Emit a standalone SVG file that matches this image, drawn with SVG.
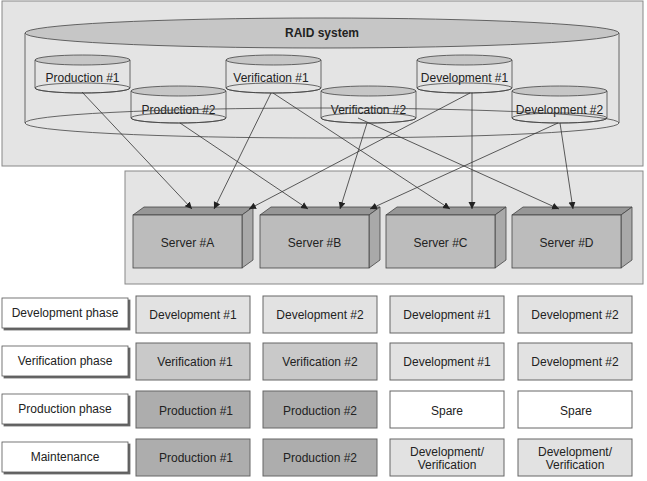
<svg xmlns="http://www.w3.org/2000/svg" width="647" height="481" viewBox="0 0 647 481">
<defs>
<marker id="ah" markerUnits="userSpaceOnUse" markerWidth="8" markerHeight="8" refX="7" refY="3.5" orient="auto">
<path d="M0,0 L7,3.5 L0,7 Z" fill="#222"/>
</marker>
<filter id="sh" x="-5%" y="-5%" width="115%" height="130%"><feDropShadow dx="2" dy="2" stdDeviation="0.3" flood-color="#666" flood-opacity="1"/></filter>
</defs>
<style>
text{font-family:"Liberation Sans",Arial,sans-serif;font-size:12px;fill:#222;text-anchor:middle}
.panel{fill:#e4e4e4;stroke:#888;stroke-width:1}
.cyl-body{fill:#e4e4e4;stroke:#444;stroke-width:0.8}
.cyl-top{fill:#c6c6c6;stroke:#444;stroke-width:0.8}
.cyl-bot{fill:none;stroke:#444;stroke-width:0.8}
.front{fill:#bcbcbc;stroke:#444;stroke-width:0.8}
.topf{fill:#979797;stroke:#444;stroke-width:0.8}
.side{fill:#a9a9a9;stroke:#444;stroke-width:0.8}
.lbl{fill:#fff;stroke:#555;stroke-width:0.8}
.dev{fill:#e2e2e2;stroke:#666;stroke-width:1}
.ver{fill:#c9c9c9;stroke:#666;stroke-width:1}
.prod{fill:#adadad;stroke:#666;stroke-width:1}
.spare{fill:#fff;stroke:#666;stroke-width:1}
.conn line{stroke:#333;stroke-width:0.8;marker-end:url(#ah)}
</style>
<rect class="panel" x="2" y="1" width="641" height="165"/>
<rect class="panel" x="125" y="171" width="518" height="113"/>
<g id="raid">
<line x1="25" y1="33" x2="25" y2="123" stroke="#444" stroke-width="0.8"/>
<line x1="619" y1="33" x2="619" y2="123" stroke="#444" stroke-width="0.8"/>
<ellipse class="cyl-top" cx="322" cy="33" rx="297" ry="15"/>
<text x="322" y="37" style="font-weight:bold;font-size:12px">RAID system</text>
</g>
<g id="prod1">
<path class="cyl-body" d="M35,60 L35,88 A47.5,5 0 0 0 130,88 L130,60 Z"/>
<ellipse class="cyl-bot" cx="82.5" cy="88" rx="47.5" ry="5"/>
<ellipse class="cyl-top" cx="82.5" cy="60" rx="47.5" ry="5"/>
<text x="82.5" y="82">Production #1</text>
</g>
<g id="ver1">
<path class="cyl-body" d="M226,60 L226,88 A47.5,5 0 0 0 321,88 L321,60 Z"/>
<ellipse class="cyl-bot" cx="273.5" cy="88" rx="47.5" ry="5"/>
<ellipse class="cyl-top" cx="273.5" cy="60" rx="47.5" ry="5"/>
<text x="271" y="82">Verification #1</text>
</g>
<g id="dev1">
<path class="cyl-body" d="M417,60 L417,88 A47.5,5 0 0 0 512,88 L512,60 Z"/>
<ellipse class="cyl-bot" cx="464.5" cy="88" rx="47.5" ry="5"/>
<ellipse class="cyl-top" cx="464.5" cy="60" rx="47.5" ry="5"/>
<text x="464.5" y="82">Development #1</text>
</g>
<g id="prod2">
<path class="cyl-body" d="M131,91 L131,118 A47.5,5 0 0 0 226,118 L226,91 Z"/>
<ellipse class="cyl-bot" cx="178.5" cy="118" rx="47.5" ry="5"/>
<ellipse class="cyl-top" cx="178.5" cy="91" rx="47.5" ry="5"/>
<text x="178.5" y="114">Production #2</text>
</g>
<g id="ver2">
<path class="cyl-body" d="M321,91 L321,118 A47.5,5 0 0 0 416,118 L416,91 Z"/>
<ellipse class="cyl-bot" cx="368.5" cy="118" rx="47.5" ry="5"/>
<ellipse class="cyl-top" cx="368.5" cy="91" rx="47.5" ry="5"/>
<text x="368.5" y="114">Verification #2</text>
</g>
<g id="dev2">
<path class="cyl-body" d="M512,91 L512,118 A47.5,5 0 0 0 607,118 L607,91 Z"/>
<ellipse class="cyl-bot" cx="559.5" cy="118" rx="47.5" ry="5"/>
<ellipse class="cyl-top" cx="559.5" cy="91" rx="47.5" ry="5"/>
<text x="559.5" y="114">Development #2</text>
</g>
<ellipse class="cyl-bot" cx="322" cy="123" rx="297" ry="15"/>
<g id="serverA">
<path class="topf" d="M133,215 L144,207 L253,207 L242,215 Z"/>
<path class="side" d="M242,215 L253,207 L253,260 L242,268 Z"/>
<rect class="front" x="133" y="215" width="109" height="53"/>
<text x="187.5" y="247">Server #A</text>
</g>
<g id="serverB">
<path class="topf" d="M260,215 L271,207 L380,207 L369,215 Z"/>
<path class="side" d="M369,215 L380,207 L380,260 L369,268 Z"/>
<rect class="front" x="260" y="215" width="109" height="53"/>
<text x="314.5" y="247">Server #B</text>
</g>
<g id="serverC">
<path class="topf" d="M386,215 L397,207 L506,207 L495,215 Z"/>
<path class="side" d="M495,215 L506,207 L506,260 L495,268 Z"/>
<rect class="front" x="386" y="215" width="109" height="53"/>
<text x="440.5" y="247">Server #C</text>
</g>
<g id="serverD">
<path class="topf" d="M512,215 L523,207 L632,207 L621,215 Z"/>
<path class="side" d="M621,215 L632,207 L632,260 L621,268 Z"/>
<rect class="front" x="512" y="215" width="109" height="53"/>
<text x="566.5" y="247">Server #D</text>
</g>
<g class="conn" id="connectors">
<line x1="82" y1="92" x2="192" y2="209"/>
<line x1="271" y1="93" x2="214" y2="209"/>
<line x1="470" y1="93" x2="249" y2="209"/>
<line x1="180" y1="123" x2="308" y2="209"/>
<line x1="367" y1="123" x2="340" y2="209"/>
<line x1="558" y1="123" x2="370" y2="209"/>
<line x1="273" y1="93" x2="450" y2="209"/>
<line x1="472" y1="93" x2="472" y2="209"/>
<line x1="358" y1="118" x2="559" y2="209"/>
<line x1="560" y1="123" x2="573" y2="209"/>
</g>
<g id="labels">
<g id="lbl-dev"><rect class="lbl" x="2" y="298" width="126" height="30" filter="url(#sh)"/><text x="65" y="317">Development phase</text></g>
<g id="lbl-ver"><rect class="lbl" x="2" y="346" width="126" height="30" filter="url(#sh)"/><text x="65" y="365">Verification phase</text></g>
<g id="lbl-prod"><rect class="lbl" x="2" y="394" width="126" height="30" filter="url(#sh)"/><text x="65" y="413">Production phase</text></g>
<g id="lbl-maint"><rect class="lbl" x="2" y="442" width="126" height="30" filter="url(#sh)"/><text x="65" y="461">Maintenance</text></g>
</g>
<g id="row-dev">
<g id="c11"><rect class="dev" x="136" y="296" width="114" height="37"/><text x="193" y="319">Development #1</text></g>
<g id="c12"><rect class="dev" x="263" y="296" width="114" height="37"/><text x="320" y="319">Development #2</text></g>
<g id="c13"><rect class="dev" x="390" y="296" width="114" height="37"/><text x="447" y="319">Development #1</text></g>
<g id="c14"><rect class="dev" x="518" y="296" width="114" height="37"/><text x="575" y="319">Development #2</text></g>
</g>
<g id="row-ver">
<g id="c21"><rect class="ver" x="136" y="343" width="114" height="37"/><text x="195" y="366">Verification #1</text></g>
<g id="c22"><rect class="ver" x="263" y="343" width="114" height="37"/><text x="320" y="366">Verification #2</text></g>
<g id="c23"><rect class="dev" x="390" y="343" width="114" height="37"/><text x="447" y="366">Development #1</text></g>
<g id="c24"><rect class="dev" x="518" y="343" width="114" height="37"/><text x="575" y="366">Development #2</text></g>
</g>
<g id="row-prod">
<g id="c31"><rect class="prod" x="136" y="391" width="114" height="37"/><text x="196" y="415">Production #1</text></g>
<g id="c32"><rect class="prod" x="263" y="391" width="114" height="37"/><text x="320" y="415">Production #2</text></g>
<g id="c33"><rect class="spare" x="390" y="391" width="114" height="37"/><text x="447" y="415">Spare</text></g>
<g id="c34"><rect class="spare" x="518" y="391" width="114" height="37"/><text x="576" y="415">Spare</text></g>
</g>
<g id="row-maint">
<g id="c41"><rect class="prod" x="136" y="439" width="114" height="37"/><text x="196" y="462">Production #1</text></g>
<g id="c42"><rect class="prod" x="263" y="439" width="114" height="37"/><text x="320" y="462">Production #2</text></g>
<g id="c43"><rect class="dev" x="390" y="439" width="114" height="37"/><text x="447" y="456">Development/</text><text x="447" y="469">Verification</text></g>
<g id="c44"><rect class="dev" x="518" y="439" width="114" height="37"/><text x="575" y="456">Development/</text><text x="575" y="469">Verification</text></g>
</g>
</svg>
